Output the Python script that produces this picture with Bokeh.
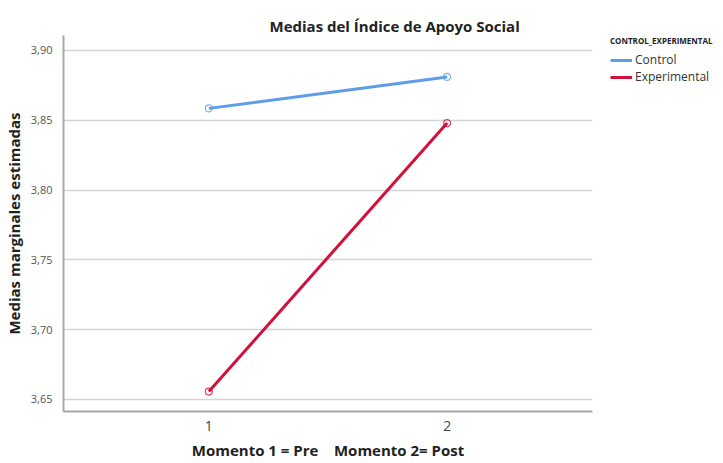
from bokeh.plotting import figure
from bokeh.layouts import row
from bokeh.models import Range1d, FixedTicker, Legend, LegendItem
from bokeh.embed import file_html
from bokeh.resources import INLINE

moments = [1, 2]
control = [3.8585, 3.881]
experimental = [3.6557, 3.848]
y_ticks = [3.65, 3.70, 3.75, 3.80, 3.85, 3.90]
y_tick_labels = ["3,65", "3,70", "3,75", "3,80", "3,85", "3,90"]
x_ticks = [1, 2]
x_tick_labels = ["1", "2"]
series_names = ["Control", "Experimental"]
colors = ["#5f9de8", "#d3103c"]

FONT = "Open Sans"
H = 462

p = figure(width=608, height=H, output_backend="svg", toolbar_location=None,
           x_range=Range1d(0.39, 2.61), y_range=Range1d(3.6414, 3.9107),
           min_border_left=62, min_border_right=16, min_border_top=32, min_border_bottom=H - 411)
p.outline_line_color = None
p.background_fill_color = "white"
p.border_fill_color = "white"

p.title.text = "Medias del Índice de Apoyo Social"
p.title.text_font = FONT
p.title.text_font_size = "15px"
p.title.text_font_style = "bold"
p.title.text_color = "#222222"
p.title.align = "left"
p.title.offset = 206
p.title.standoff = 0

p.yaxis.ticker = FixedTicker(ticks=y_ticks)
p.yaxis.major_label_overrides = {t: l for t, l in zip(y_ticks, y_tick_labels)}
p.xaxis.ticker = FixedTicker(ticks=x_ticks)
p.xaxis.major_label_overrides = {t: l for t, l in zip(x_ticks, x_tick_labels)}
for ax in (p.xaxis, p.yaxis):
    ax.axis_line_color = "#a8a8a8"
    ax.axis_line_width = 2
    ax.major_tick_line_color = None
    ax.minor_tick_line_color = None
    ax.major_label_text_font = FONT
    ax.axis_label_text_font = FONT
    ax.axis_label_text_font_style = "bold"
    ax.axis_label_text_font_size = "15px"
    ax.axis_label_text_color = "#222222"
p.yaxis.major_label_text_font_size = "11px"
p.yaxis.major_label_text_color = "#555555"
p.yaxis.major_label_standoff = 5
p.yaxis.axis_label = "Medias marginales estimadas"
p.yaxis.axis_label_standoff = 4
p.xaxis.major_label_text_font_size = "14px"
p.xaxis.major_label_text_color = "#444444"
p.xaxis.major_label_standoff = 3
p.xaxis.axis_label = "Momento 1 = Pre\u00a0\u00a0\u00a0\u00a0Momento 2= Post"
p.xaxis.axis_label_standoff = 6

p.xgrid.grid_line_color = None
p.ygrid.grid_line_color = "#d4d4d4"
p.ygrid.grid_line_width = 1.5

for name, vals, c in zip(series_names, [control, experimental], colors):
    p.line(moments, vals, line_color=c, line_width=3)
    p.scatter(moments, vals, size=7, fill_color=None, line_color=c, line_width=1.2, line_alpha=0.8)

# legend panel: same series drawn outside its visible range, only the legend shows
lg = figure(width=113, height=H, output_backend="svg", toolbar_location=None,
            x_range=Range1d(10, 11), y_range=Range1d(10, 11),
            x_axis_location=None, y_axis_location=None,
            min_border_left=2, min_border_right=0, min_border_top=35, min_border_bottom=0)
lg.outline_line_color = None
lg.xgrid.visible = False
lg.ygrid.visible = False
items = []
for name, vals, c in zip(series_names, [control, experimental], colors):
    r = lg.line(moments, vals, line_color=c, line_width=3)
    items.append(LegendItem(label=name, renderers=[r]))

legend = Legend(items=items, location="top_left", title="CONTROL_EXPERIMENTAL")
legend.title_text_font = FONT
legend.title_text_font_size = "8px"
legend.title_text_font_style = "bold"
legend.title_text_color = "#222222"
legend.title_standoff = 5
legend.label_text_font = FONT
legend.label_text_font_size = "12px"
legend.label_text_color = "#333333"
legend.label_text_line_height = 0.75
legend.label_standoff = 3
legend.glyph_width = 22
legend.glyph_height = 12
legend.label_height = 12
legend.spacing = 0
legend.padding = 0
legend.margin = 0
legend.border_line_color = None
legend.background_fill_alpha = 0
lg.add_layout(legend, "center")

open("out.html", "w").write(file_html(row(p, lg), INLINE))
